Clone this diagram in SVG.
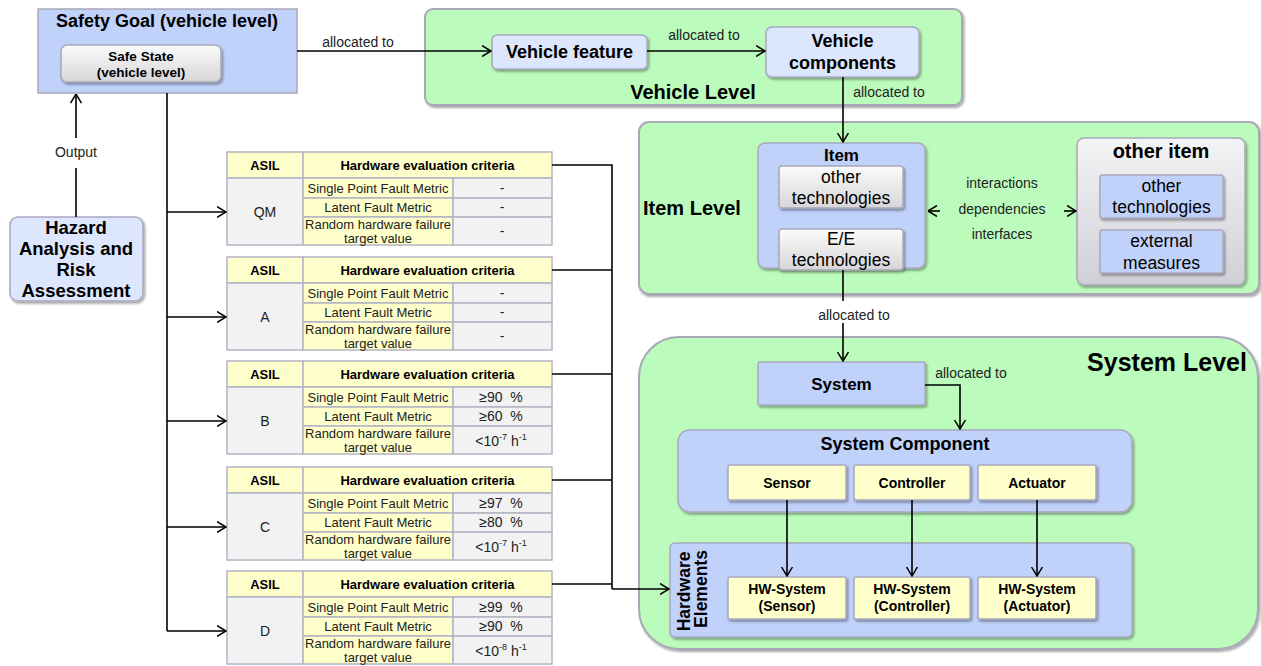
<svg xmlns="http://www.w3.org/2000/svg" width="1261" height="666" viewBox="0 0 1261 666">
  <defs>
    <filter id="shadow" x="-10%" y="-10%" width="130%" height="140%">
      <feDropShadow dx="1.5" dy="2" stdDeviation="1.2" flood-color="#000" flood-opacity="0.35"/>
    </filter>
    <linearGradient id="grayGrad" x1="0" y1="0" x2="0" y2="1">
      <stop offset="0" stop-color="#fbfbfb"/>
      <stop offset="1" stop-color="#d6d6d8"/>
    </linearGradient>
    <linearGradient id="otherGrad" x1="0" y1="0" x2="0" y2="1">
      <stop offset="0" stop-color="#f4f4f6"/>
      <stop offset="1" stop-color="#cfcfd6"/>
    </linearGradient>
    <marker id="arr" viewBox="0 0 10 12" refX="9.5" refY="6" markerWidth="10" markerHeight="12" orient="auto" markerUnits="userSpaceOnUse">
      <path d="M0.5,0.5 L9.5,6 L0.5,11.5" fill="none" stroke="#000" stroke-width="1.5"/>
    </marker>
    <style>
      text { font-family: "Liberation Sans", Arial, sans-serif; fill: #000; }
      .b { font-weight: bold; }
      .mid { text-anchor: middle; }
      .lvl { fill: #bbfbbb; stroke: #a8a8b8; stroke-width: 2; }
      .blue { fill: #c0d1fa; stroke: #a8a8c0; stroke-width: 1.5; }
      .lblue { fill: #dce6fc; stroke: #a8a8c0; stroke-width: 1.5; }
      .yel { fill: #ffffcc; stroke: #a8a8c0; stroke-width: 1.5; }
      .gray { fill: url(#grayGrad); stroke: #a8a8b8; stroke-width: 1.5; }
      .cellY { fill: #ffffcc; stroke: #b4b4c4; stroke-width: 1.5; }
      .cellG { fill: #f2f2f2; stroke: #b4b4c4; stroke-width: 1.5; }
      .th { font-size: 13px; font-weight: bold; text-anchor: middle; }
      .td { font-size: 13px; fill: #222; text-anchor: middle; }
      .val { font-size: 14px; fill: #222; text-anchor: middle; }
      .lbl { font-size: 14px; fill: #222; }
      .ln { fill: none; stroke: #000; stroke-width: 1.6; }
      .la { fill: none; stroke: #000; stroke-width: 1.6; marker-end: url(#arr); }
    </style>
  </defs>

  <rect width="1261" height="666" fill="#ffffff"/>

  <!-- level containers -->
  <g id="vehicle-level">
    <rect class="lvl" x="425" y="9" width="537" height="96" rx="8" filter="url(#shadow)"/>
    <text class="b mid" x="693" y="99" font-size="20">Vehicle Level</text>
  </g>
  <g id="item-level">
    <rect class="lvl" x="639" y="122" width="620" height="172" rx="10" filter="url(#shadow)"/>
    <text class="b" x="643" y="215" font-size="20">Item Level</text>
  </g>
  <g id="system-level">
    <rect class="lvl" x="639" y="337" width="619" height="312" rx="40" filter="url(#shadow)"/>
    <text class="b mid" x="1167" y="371" font-size="25">System Level</text>
  </g>

  <!-- safety goal -->
  <g id="safety-goal">
    <rect x="38" y="9" width="259" height="84" fill="#c0d1fa" stroke="#a8a8b8" stroke-width="1.5"/>
    <text class="b mid" x="167" y="27" font-size="18">Safety Goal (vehicle level)</text>
  </g>
  <g id="safe-state">
    <rect class="gray" x="61" y="45" width="160" height="37" rx="6" filter="url(#shadow)"/>
    <text class="b mid" x="141" y="61" font-size="13.5">Safe State</text>
    <text class="b mid" x="141" y="77" font-size="13.5">(vehicle level)</text>
  </g>

  <g id="hara">
    <rect class="lblue" x="10" y="217" width="133" height="84" rx="8" filter="url(#shadow)"/>
    <text class="b mid" x="76" y="234" font-size="18.5">Hazard</text>
    <text class="b mid" x="76" y="255" font-size="18.5">Analysis and</text>
    <text class="b mid" x="76" y="276" font-size="18.5">Risk</text>
    <text class="b mid" x="76" y="297" font-size="18.5">Assessment</text>
  </g>

  <!-- vehicle level nodes -->
  <g id="vehicle-feature">
    <rect class="lblue" x="492" y="35" width="155" height="34" rx="5" filter="url(#shadow)"/>
    <text class="b mid" x="569.5" y="58" font-size="18">Vehicle feature</text>
  </g>
  <g id="vehicle-components">
    <rect class="lblue" x="766" y="27" width="153" height="50" rx="6" filter="url(#shadow)"/>
    <text class="b mid" x="842.5" y="47" font-size="18">Vehicle</text>
    <text class="b mid" x="842.5" y="69" font-size="18">components</text>
  </g>

  <!-- item level nodes -->
  <g id="item">
    <rect class="blue" x="758" y="143" width="167" height="125" rx="7" filter="url(#shadow)"/>
    <text class="b mid" x="841.5" y="161" font-size="17">Item</text>
  </g>
  <g id="item-other-tech">
    <rect class="gray" x="779" y="166" width="124" height="42" rx="3" filter="url(#shadow)"/>
    <text class="mid" x="841" y="183" font-size="17.5">other</text>
    <text class="mid" x="841" y="204" font-size="17.5">technologies</text>
  </g>
  <g id="item-ee-tech">
    <rect class="gray" x="779" y="229" width="124" height="41" rx="3" filter="url(#shadow)"/>
    <text class="mid" x="841" y="245" font-size="17.5">E/E</text>
    <text class="mid" x="841" y="266" font-size="17.5">technologies</text>
  </g>
  <g id="other-item">
    <rect x="1077" y="138" width="168" height="147" rx="7" fill="url(#otherGrad)" stroke="#a8a8b8" stroke-width="1.5" filter="url(#shadow)"/>
    <text class="b mid" x="1161" y="158" font-size="20">other item</text>
  </g>
  <g id="other-item-tech">
    <rect class="blue" x="1100" y="175" width="123" height="43" rx="2" filter="url(#shadow)"/>
    <text class="mid" x="1161.5" y="192" font-size="17.5">other</text>
    <text class="mid" x="1161.5" y="213" font-size="17.5">technologies</text>
  </g>
  <g id="external-measures">
    <rect class="blue" x="1100" y="230" width="123" height="43" rx="2" filter="url(#shadow)"/>
    <text class="mid" x="1161.5" y="247" font-size="17.5">external</text>
    <text class="mid" x="1161.5" y="269" font-size="17.5">measures</text>
  </g>

  <!-- system level nodes -->
  <g id="system">
    <rect class="blue" x="758" y="362" width="167" height="43" rx="2" filter="url(#shadow)"/>
    <text class="b mid" x="841.5" y="390" font-size="17">System</text>
  </g>
  <g id="system-component">
    <rect class="blue" x="678" y="430" width="454" height="82" rx="12" filter="url(#shadow)"/>
    <text class="b mid" x="905" y="450" font-size="18">System Component</text>
  </g>
  <g id="sensor">
    <rect class="yel" x="728" y="465" width="118" height="35" rx="2" filter="url(#shadow)"/>
    <text class="b mid" x="787" y="488" font-size="14">Sensor</text>
  </g>
  <g id="controller">
    <rect class="yel" x="854" y="465" width="116" height="35" rx="2" filter="url(#shadow)"/>
    <text class="b mid" x="912" y="488" font-size="14">Controller</text>
  </g>
  <g id="actuator">
    <rect class="yel" x="978" y="465" width="118" height="35" rx="2" filter="url(#shadow)"/>
    <text class="b mid" x="1037" y="488" font-size="14">Actuator</text>
  </g>
  <g id="hardware-elements">
    <rect class="blue" x="670" y="543" width="462" height="94" rx="5" filter="url(#shadow)"/>
    <text class="b mid" transform="translate(691,589) rotate(-90)" font-size="17.5">
      <tspan x="0" y="-1">Hardware</tspan>
      <tspan x="0" y="16">Elements</tspan>
    </text>
  </g>
  <g id="hw-sensor">
    <rect class="yel" x="728" y="577" width="118" height="42" rx="2" filter="url(#shadow)"/>
    <text class="b mid" x="787" y="594" font-size="14">HW-System</text>
    <text class="b mid" x="787" y="611" font-size="14">(Sensor)</text>
  </g>
  <g id="hw-controller">
    <rect class="yel" x="854" y="577" width="116" height="42" rx="2" filter="url(#shadow)"/>
    <text class="b mid" x="912" y="594" font-size="14">HW-System</text>
    <text class="b mid" x="912" y="611" font-size="14">(Controller)</text>
  </g>
  <g id="hw-actuator">
    <rect class="yel" x="978" y="577" width="118" height="42" rx="2" filter="url(#shadow)"/>
    <text class="b mid" x="1037" y="594" font-size="14">HW-System</text>
    <text class="b mid" x="1037" y="611" font-size="14">(Actuator)</text>
  </g>

  <!-- ASIL tables -->
  <g id="asil-qm">
    <rect class="cellY" x="227" y="152" width="76" height="26"/>
    <rect class="cellY" x="303" y="152" width="249" height="26"/>
    <rect class="cellG" x="227" y="178" width="76" height="67"/>
    <rect class="cellY" x="303" y="178" width="150" height="20"/>
    <rect class="cellY" x="303" y="198" width="150" height="19"/>
    <rect class="cellY" x="303" y="217" width="150" height="28"/>
    <rect class="cellG" x="453" y="178" width="99" height="20"/>
    <rect class="cellG" x="453" y="198" width="99" height="19"/>
    <rect class="cellG" x="453" y="217" width="99" height="28"/>
    <text class="th" x="265" y="170">ASIL</text>
    <text class="th" x="427.5" y="170">Hardware evaluation criteria</text>
    <text class="val" x="265" y="217">QM</text>
    <text class="td" x="378" y="193">Single Point Fault Metric</text>
    <text class="td" x="378" y="212">Latent Fault Metric</text>
    <text class="td" x="378" y="229">Random hardware failure</text>
    <text class="td" x="378" y="243">target value</text>
    <text class="val" x="502" y="193">-</text>
    <text class="val" x="502" y="212">-</text>
    <text class="val" x="502" y="236">-</text>
  </g>
  <g id="asil-a">
    <rect class="cellY" x="227" y="257" width="76" height="26"/>
    <rect class="cellY" x="303" y="257" width="249" height="26"/>
    <rect class="cellG" x="227" y="283" width="76" height="67"/>
    <rect class="cellY" x="303" y="283" width="150" height="20"/>
    <rect class="cellY" x="303" y="303" width="150" height="19"/>
    <rect class="cellY" x="303" y="322" width="150" height="28"/>
    <rect class="cellG" x="453" y="283" width="99" height="20"/>
    <rect class="cellG" x="453" y="303" width="99" height="19"/>
    <rect class="cellG" x="453" y="322" width="99" height="28"/>
    <text class="th" x="265" y="275">ASIL</text>
    <text class="th" x="427.5" y="275">Hardware evaluation criteria</text>
    <text class="val" x="265" y="322">A</text>
    <text class="td" x="378" y="298">Single Point Fault Metric</text>
    <text class="td" x="378" y="317">Latent Fault Metric</text>
    <text class="td" x="378" y="334">Random hardware failure</text>
    <text class="td" x="378" y="348">target value</text>
    <text class="val" x="502" y="298">-</text>
    <text class="val" x="502" y="317">-</text>
    <text class="val" x="502" y="341">-</text>
  </g>
  <g id="asil-b">
    <rect class="cellY" x="227" y="361" width="76" height="26"/>
    <rect class="cellY" x="303" y="361" width="249" height="26"/>
    <rect class="cellG" x="227" y="387" width="76" height="67"/>
    <rect class="cellY" x="303" y="387" width="150" height="20"/>
    <rect class="cellY" x="303" y="407" width="150" height="19"/>
    <rect class="cellY" x="303" y="426" width="150" height="28"/>
    <rect class="cellG" x="453" y="387" width="99" height="20"/>
    <rect class="cellG" x="453" y="407" width="99" height="19"/>
    <rect class="cellG" x="453" y="426" width="99" height="28"/>
    <text class="th" x="265" y="379">ASIL</text>
    <text class="th" x="427.5" y="379">Hardware evaluation criteria</text>
    <text class="val" x="265" y="426">B</text>
    <text class="td" x="378" y="402">Single Point Fault Metric</text>
    <text class="td" x="378" y="421">Latent Fault Metric</text>
    <text class="td" x="378" y="438">Random hardware failure</text>
    <text class="td" x="378" y="452">target value</text>
    <text class="val" x="501" y="402">≥90&#160; %</text>
    <text class="val" x="501" y="421">≥60&#160; %</text>
    <text class="val" x="501" y="446">&lt;10<tspan font-size="9" dy="-6">-7</tspan><tspan dy="6"> h</tspan><tspan font-size="9" dy="-6">-1</tspan></text>
  </g>
  <g id="asil-c">
    <rect class="cellY" x="227" y="467" width="76" height="26"/>
    <rect class="cellY" x="303" y="467" width="249" height="26"/>
    <rect class="cellG" x="227" y="493" width="76" height="67"/>
    <rect class="cellY" x="303" y="493" width="150" height="20"/>
    <rect class="cellY" x="303" y="513" width="150" height="19"/>
    <rect class="cellY" x="303" y="532" width="150" height="28"/>
    <rect class="cellG" x="453" y="493" width="99" height="20"/>
    <rect class="cellG" x="453" y="513" width="99" height="19"/>
    <rect class="cellG" x="453" y="532" width="99" height="28"/>
    <text class="th" x="265" y="485">ASIL</text>
    <text class="th" x="427.5" y="485">Hardware evaluation criteria</text>
    <text class="val" x="265" y="532">C</text>
    <text class="td" x="378" y="508">Single Point Fault Metric</text>
    <text class="td" x="378" y="527">Latent Fault Metric</text>
    <text class="td" x="378" y="544">Random hardware failure</text>
    <text class="td" x="378" y="558">target value</text>
    <text class="val" x="501" y="508">≥97&#160; %</text>
    <text class="val" x="501" y="527">≥80&#160; %</text>
    <text class="val" x="501" y="552">&lt;10<tspan font-size="9" dy="-6">-7</tspan><tspan dy="6"> h</tspan><tspan font-size="9" dy="-6">-1</tspan></text>
  </g>
  <g id="asil-d">
    <rect class="cellY" x="227" y="571" width="76" height="26"/>
    <rect class="cellY" x="303" y="571" width="249" height="26"/>
    <rect class="cellG" x="227" y="597" width="76" height="67"/>
    <rect class="cellY" x="303" y="597" width="150" height="20"/>
    <rect class="cellY" x="303" y="617" width="150" height="19"/>
    <rect class="cellY" x="303" y="636" width="150" height="28"/>
    <rect class="cellG" x="453" y="597" width="99" height="20"/>
    <rect class="cellG" x="453" y="617" width="99" height="19"/>
    <rect class="cellG" x="453" y="636" width="99" height="28"/>
    <text class="th" x="265" y="589">ASIL</text>
    <text class="th" x="427.5" y="589">Hardware evaluation criteria</text>
    <text class="val" x="265" y="636">D</text>
    <text class="td" x="378" y="612">Single Point Fault Metric</text>
    <text class="td" x="378" y="631">Latent Fault Metric</text>
    <text class="td" x="378" y="648">Random hardware failure</text>
    <text class="td" x="378" y="662">target value</text>
    <text class="val" x="501" y="612">≥99&#160; %</text>
    <text class="val" x="501" y="631">≥90&#160; %</text>
    <text class="val" x="501" y="656">&lt;10<tspan font-size="9" dy="-6">-8</tspan><tspan dy="6"> h</tspan><tspan font-size="9" dy="-6">-1</tspan></text>
  </g>

  <!-- connectors -->
  <g id="connectors">
    <!-- HARA output to safety goal -->
    <path class="ln" d="M76,217 V168"/>
    <path class="la" d="M76,138 V94"/>
    <text class="lbl mid" x="76" y="157">Output</text>

    <!-- safety goal to vehicle feature -->
    <path class="la" d="M297,51 H491"/>
    <text class="lbl mid" x="358" y="47">allocated to</text>

    <!-- vehicle feature to vehicle components -->
    <path class="la" d="M647,51 H765"/>
    <text class="lbl mid" x="704" y="40">allocated to</text>

    <!-- vehicle components to item -->
    <path class="la" d="M843,77 V142"/>
    <text class="lbl mid" x="889" y="97">allocated to</text>

    <!-- item interactions with other item -->
    <path class="la" d="M940,211 H928"/>
    <path class="la" d="M1064,211 H1076"/>
    <text class="lbl mid" x="1002" y="188">interactions</text>
    <text class="lbl mid" x="1002" y="214">dependencies</text>
    <text class="lbl mid" x="1002" y="239">interfaces</text>

    <!-- item to system -->
    <path class="ln" d="M843,270 V301"/>
    <path class="la" d="M843,323 V361"/>
    <text class="lbl mid" x="854" y="320">allocated to</text>

    <!-- system to system component -->
    <path class="la" d="M925,385 H960 V429"/>
    <text class="lbl mid" x="971" y="378">allocated to</text>

    <!-- components to hardware -->
    <path class="la" d="M787,500 V576"/>
    <path class="la" d="M912,500 V576"/>
    <path class="la" d="M1037,500 V576"/>

    <!-- safety goal to ASIL tables -->
    <path class="ln" d="M167,93 V631"/>
    <path class="la" d="M167,212 H226"/>
    <path class="la" d="M167,317 H226"/>
    <path class="la" d="M167,421 H226"/>
    <path class="la" d="M167,527 H226"/>
    <path class="la" d="M167,631 H226"/>

    <!-- ASIL tables to hardware elements -->
    <path class="ln" d="M552,165 H612 V589"/>
    <path class="ln" d="M552,270 H612"/>
    <path class="ln" d="M552,374 H612"/>
    <path class="ln" d="M552,480 H612"/>
    <path class="ln" d="M552,584 H612"/>
    <path class="la" d="M612,589 H669"/>
  </g>
</svg>
